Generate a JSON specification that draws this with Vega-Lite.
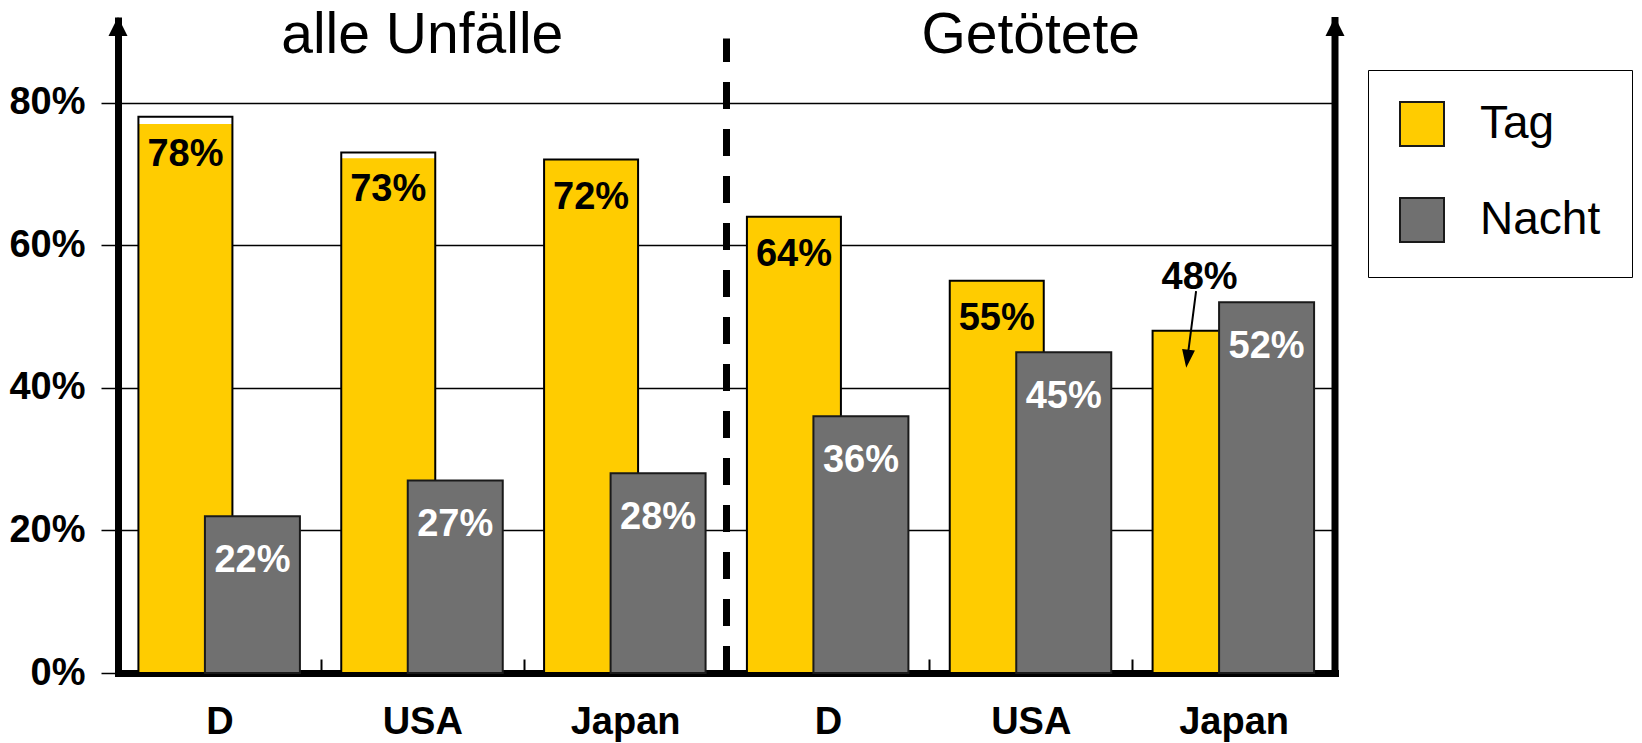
{
  "$schema": "https://vega.github.io/schema/vega-lite/v6.json",
  "width": 1217,
  "height": 656,
  "autosize": {"type": "none"},
  "padding": {"left": 118, "top": 17, "right": 307, "bottom": 70},
  "background": "white",
  "config": {"view": {"stroke": null}, "font": "Liberation Sans"},
  "datasets": {
    "anteile": [
      {"Kategorie": "alle Unfälle: D", "Zeit": "Tag", "Anteil": 0.78, "Fuellung": 0.77},
      {"Kategorie": "alle Unfälle: D", "Zeit": "Nacht", "Anteil": 0.22, "Fuellung": 0.22},
      {"Kategorie": "alle Unfälle: USA", "Zeit": "Tag", "Anteil": 0.73, "Fuellung": 0.722},
      {"Kategorie": "alle Unfälle: USA", "Zeit": "Nacht", "Anteil": 0.27, "Fuellung": 0.27},
      {"Kategorie": "alle Unfälle: Japan", "Zeit": "Tag", "Anteil": 0.72, "Fuellung": 0.72},
      {"Kategorie": "alle Unfälle: Japan", "Zeit": "Nacht", "Anteil": 0.28, "Fuellung": 0.28},
      {"Kategorie": "Getötete: D", "Zeit": "Tag", "Anteil": 0.64, "Fuellung": 0.64},
      {"Kategorie": "Getötete: D", "Zeit": "Nacht", "Anteil": 0.36, "Fuellung": 0.36},
      {"Kategorie": "Getötete: USA", "Zeit": "Tag", "Anteil": 0.55, "Fuellung": 0.55},
      {"Kategorie": "Getötete: USA", "Zeit": "Nacht", "Anteil": 0.45, "Fuellung": 0.45},
      {"Kategorie": "Getötete: Japan", "Zeit": "Tag", "Anteil": 0.48, "Fuellung": 0.48},
      {"Kategorie": "Getötete: Japan", "Zeit": "Nacht", "Anteil": 0.52, "Fuellung": 0.52}
    ],
    "titel": [
      {"Kategorie": "alle Unfälle: USA", "Titel": "alle Unfälle"},
      {"Kategorie": "Getötete: USA", "Titel": "Getötete"}
    ]
  },
  "data": {"name": "anteile"},
  "encoding": {
    "x": {
      "field": "Kategorie",
      "type": "nominal",
      "scale": {
        "domain": ["alle Unfälle: D", "alle Unfälle: USA", "alle Unfälle: Japan", "Getötete: D", "Getötete: USA", "Getötete: Japan"],
        "paddingInner": 0,
        "paddingOuter": 0
      },
      "axis": {
        "title": null,
        "labelExpr": "split(datum.label, ': ')[1]",
        "labelAngle": 0,
        "labelFont": "Liberation Sans",
        "labelFontWeight": "bold",
        "labelFontSize": 38,
        "labelColor": "black",
        "labelBaseline": "top",
        "labelPadding": 44,
        "domainColor": "black",
        "domainWidth": 7,
        "domainCap": "square",
        "tickBand": "extent",
        "tickSize": -14,
        "tickWidth": 2,
        "tickColor": "black"
      }
    }
  },
  "layer": [
    {
      "transform": [{"filter": "datum.Zeit === 'Tag'"}],
      "mark": {"type": "bar", "width": 94, "xOffset": -34},
      "encoding": {
        "y": {
          "field": "Fuellung",
          "type": "quantitative",
          "title": null,
          "scale": {"domain": [0, 0.92], "nice": false},
          "axis": {
            "title": null,
            "values": [0, 0.2, 0.4, 0.6, 0.8],
            "format": ".0%",
            "grid": true,
            "gridColor": "black",
            "gridWidth": 1.5,
            "domainColor": "black",
            "domainWidth": 7,
            "tickColor": "black",
            "tickSize": 17,
            "tickWidth": 1.5,
            "encode": {"ticks": {"update": {"strokeWidth": {"signal": "datum.value === 0 ? 7 : 1.5"}}}},
            "labelFont": "Liberation Sans",
            "labelFontWeight": "bold",
            "labelFontSize": 38,
            "labelColor": "black",
            "labelPadding": 16
          }
        },
        "color": {
          "field": "Zeit",
          "type": "nominal",
          "scale": {"domain": ["Tag", "Nacht"], "range": ["#FFCC00", "#707070"]},
          "legend": {
            "title": null,
            "orient": "none",
            "legendX": 1250,
            "legendY": 53,
            "symbolType": "square",
            "symbolSize": 1936,
            "symbolStrokeColor": "black",
            "symbolStrokeWidth": 2,
            "labelFont": "Liberation Sans",
            "labelFontSize": 46,
            "labelColor": "black",
            "labelOffset": 35,
            "padding": 31,
            "rowPadding": 44,
            "strokeColor": "black",
            "fillColor": "white"
          }
        }
      }
    },
    {
      "transform": [{"filter": "datum.Zeit === 'Tag'"}],
      "mark": {"type": "bar", "width": 94, "xOffset": -34, "filled": false, "stroke": "black", "strokeWidth": 2},
      "encoding": {
        "y": {"field": "Anteil", "type": "quantitative", "title": null}
      }
    },
    {
      "transform": [{"filter": "datum.Zeit === 'Nacht'"}],
      "mark": {"type": "bar", "width": 95, "xOffset": 33, "stroke": "#1a1a1a", "strokeWidth": 2},
      "encoding": {
        "y": {"field": "Anteil", "type": "quantitative", "title": null},
        "color": {"field": "Zeit", "type": "nominal"}
      }
    },
    {
      "transform": [{"filter": "datum.Zeit === 'Tag' && datum.Kategorie !== 'Getötete: Japan'"}],
      "mark": {"type": "text", "baseline": "top", "dy": 19, "xOffset": -34, "fontSize": 38, "fontWeight": "bold", "font": "Liberation Sans", "fill": "black"},
      "encoding": {
        "y": {"field": "Anteil", "type": "quantitative", "title": null},
        "text": {"field": "Anteil", "type": "quantitative", "format": ".0%"}
      }
    },
    {
      "transform": [{"filter": "datum.Zeit === 'Nacht'"}],
      "mark": {"type": "text", "baseline": "top", "dy": 26, "xOffset": 33, "fontSize": 38, "fontWeight": "bold", "font": "Liberation Sans", "fill": "white"},
      "encoding": {
        "y": {"field": "Anteil", "type": "quantitative", "title": null},
        "text": {"field": "Anteil", "type": "quantitative", "format": ".0%"}
      }
    },
    {
      "transform": [{"filter": "datum.Zeit === 'Tag' && datum.Kategorie === 'Getötete: Japan'"}],
      "mark": {"type": "text", "baseline": "alphabetic", "dy": -42, "xOffset": -34, "fontSize": 38, "fontWeight": "bold", "font": "Liberation Sans", "fill": "black"},
      "encoding": {
        "y": {"field": "Anteil", "type": "quantitative", "title": null},
        "text": {"field": "Anteil", "type": "quantitative", "format": ".0%"}
      }
    },
    {
      "transform": [{"filter": "datum.Zeit === 'Tag' && datum.Kategorie === 'Getötete: Japan'"}],
      "mark": {"type": "point", "shape": "M-3.5,-39.5L-11.2,20.1M-13,34L-16.2,19.5L-6.2,20.7Z", "size": 4, "xOffset": -34, "filled": true, "fill": "black", "stroke": "black", "strokeWidth": 2, "opacity": 1},
      "encoding": {
        "y": {"field": "Anteil", "type": "quantitative", "title": null}
      }
    },
    {
      "transform": [{"filter": "datum.Zeit === 'Tag' && datum.Kategorie === 'alle Unfälle: Japan'"}],
      "mark": {"type": "rule", "color": "black", "strokeWidth": 7, "strokeDash": [27, 20]},
      "encoding": {
        "x": {"field": "Kategorie", "type": "nominal", "bandPosition": 1},
        "y": {"datum": 0, "type": "quantitative"},
        "y2": {"datum": 0.89}
      }
    },
    {
      "transform": [{"filter": "datum.Zeit === 'Tag' && datum.Kategorie === 'Getötete: Japan'"}],
      "mark": {"type": "rule", "color": "black", "strokeWidth": 7},
      "encoding": {
        "x": {"field": "Kategorie", "type": "nominal", "bandPosition": 1},
        "y": {"datum": 0, "type": "quantitative"},
        "y2": {"datum": 0.92}
      }
    },
    {
      "transform": [{"filter": "datum.Zeit === 'Tag' && datum.Kategorie === 'alle Unfälle: D'"}],
      "mark": {"type": "point", "shape": "M0,0L9.5,19L-9.5,19Z", "size": 4, "filled": true, "fill": "black", "opacity": 1},
      "encoding": {
        "x": {"field": "Kategorie", "type": "nominal", "bandPosition": 0},
        "y": {"datum": 0.92, "type": "quantitative"}
      }
    },
    {
      "transform": [{"filter": "datum.Zeit === 'Tag' && datum.Kategorie === 'Getötete: Japan'"}],
      "mark": {"type": "point", "shape": "M0,0L9.5,19L-9.5,19Z", "size": 4, "filled": true, "fill": "black", "opacity": 1},
      "encoding": {
        "x": {"field": "Kategorie", "type": "nominal", "bandPosition": 1},
        "y": {"datum": 0.92, "type": "quantitative"}
      }
    },
    {
      "data": {"name": "titel"},
      "mark": {"type": "text", "baseline": "alphabetic", "fontSize": 57, "font": "Liberation Sans", "fill": "black"},
      "encoding": {
        "y": {"datum": 0.87, "type": "quantitative"},
        "text": {"field": "Titel", "type": "nominal"}
      }
    }
  ]
}
